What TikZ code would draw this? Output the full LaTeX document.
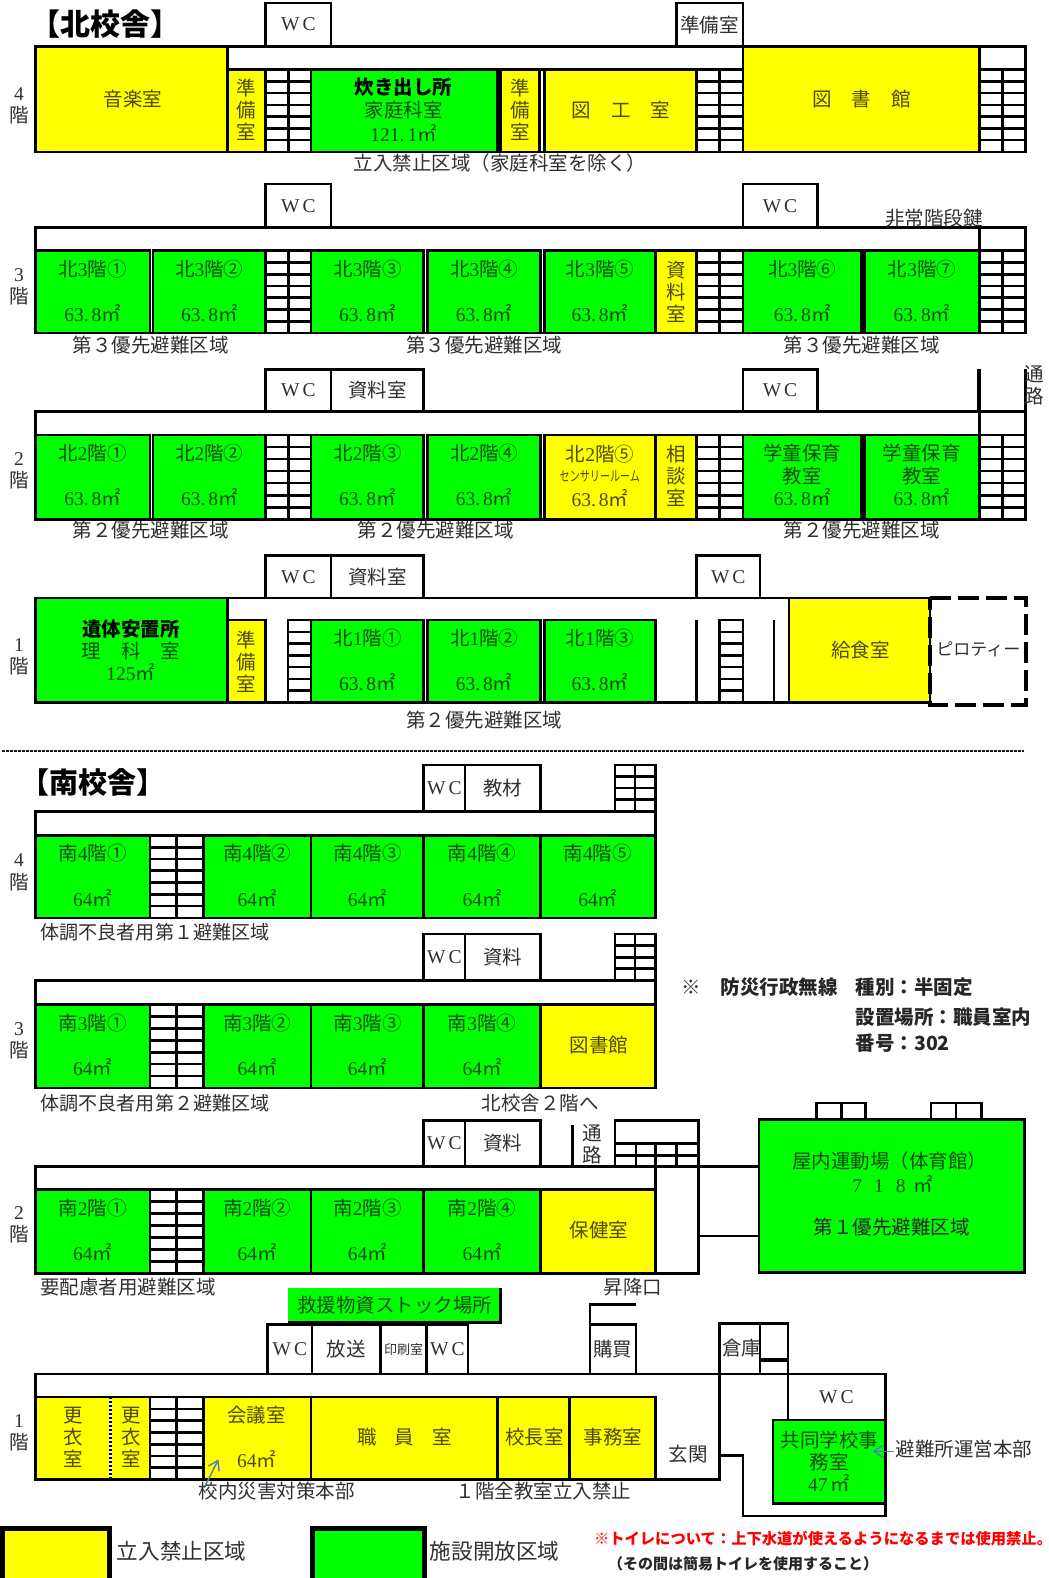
\documentclass[tikz,border=0pt]{standalone}
\usepackage{fontspec}
\usetikzlibrary{arrows.meta}
\setmainfont{Noto Sans CJK JP}
\newfontfamily\nmf{Liberation Serif}
\newfontfamily\cjn[FakeStretch=0.72]{Noto Sans CJK JP}
\newcommand{\nm}[1]{{\nmf #1}}
\newcommand{\fsz}[1]{\fontsize{#1}{#1}\selectfont}
\newcommand{\basefnt}{\fontsize{19.5}{22}\selectfont}
\definecolor{gr}{HTML}{00FF00}
\definecolor{ye}{HTML}{FFFF00}
\definecolor{gt}{HTML}{0C4A0C}
\definecolor{yt}{HTML}{4F4A00}
\definecolor{wt}{HTML}{303030}
\definecolor{bl}{HTML}{4F7FBF}
\tikzset{
  wall/.style={draw=black,line width=2.6pt},
  lb/.style={inner sep=0pt,align=center,font=\basefnt},
}
\newcommand{\rmb}[5]{\draw[wall,fill=#5] (#1,#2) rectangle (#3,#4);}
\newcommand{\stp}[6]{%
  \draw[wall,fill=white] (#1,#2) rectangle (#3,#4);
  \foreach \i in {1,...,#5}{\pgfmathsetmacro\yy{#2+(#4-#2)*\i/(#5+1)}\draw[wall] (#1,\yy) -- (#3,\yy);}
  \ifnum#6>0 \pgfmathsetmacro\xx{(#1+#3)/2}\draw[wall] (\xx,#2) -- (\xx,#4);\fi
}
\newcommand{\lb}[4]{\node[lb,text=#3] at (#1,#2) {#4};}
\newcommand{\lw}[3]{\node[lb,text=wt,anchor=west] at (#1,#2) {#3};}
\newcommand{\am}[1]{\nm{#1}㎡}
\newcommand{\sq}{\am{63.\kern3pt 8}}
% x1 x2 ytop ybot label area
\newcommand{\grm}[6]{\rmb{#1}{#3}{#2}{#4}{gr}
  \pgfmathsetmacro\cx{(#1+#2)/2}\pgfmathsetmacro\ya{#3+18}\pgfmathsetmacro\yb{#3+62}
  \lb{\cx}{\ya}{gt}{#5}\lb{\cx}{\yb}{gt}{#6}}
\newcommand{\wc}[5]{\draw[wall,fill=white] (#1,#3) rectangle (#2,#4);\pgfmathsetmacro\cx{(#1+#2)/2}\pgfmathsetmacro\cy{(#3+#4)/2}\lb{\cx}{\cy}{wt}{#5}}
\newcommand{\WC}{\nm{W\kern3pt C}}
\newcommand{\flr}[2]{\pgfmathsetmacro\fy{#2+21}\lb{19}{#2}{wt}{\nm{#1}}\lb{19}{\fy}{wt}{階}}
\begin{document}
\begin{tikzpicture}[x=1.0065pt,y=-1.0065pt]
\useasboundingbox (0,0) rectangle (1042.2,1567.8);
\fill[white] (0,0) rectangle (1042.2,1567.8);
% ===== North 4F
\node[lb,text=black,anchor=west,font=\fsz{30}] at (30,24) {\bfseries 【北校舎】};
\wc{264}{329}{3}{46}{\WC}
\wc{672}{738}{3}{46}{準備室}
\rmb{35}{46}{1019}{151}{white}
\rmb{35}{46}{226}{151}{ye}
\rmb{226}{69}{264}{151}{ye}
\stp{264}{69}{309}{151}{6}{1}
\rmb{309}{69}{494}{151}{gr}
\rmb{497}{69}{536}{151}{ye}
\rmb{541}{69}{692}{151}{ye}
\stp{692}{69}{738}{151}{6}{1}
\rmb{738}{46}{973}{151}{ye}
\stp{973}{69}{1019}{151}{6}{1}
\draw[wall] (973,46) -- (973,69);
\draw[wall] (226,69) -- (738,69);
\flr{4}{93}
\lb{132}{98}{yt}{音楽室}
\lb{245}{109}{yt}{準\\備\\室}
\lb{401}{87}{black}{\bfseries 炊き出し所}
\lb{401}{109}{gt}{家庭科室}
\lb{401}{132}{gt}{\am{121.\kern3pt 1}}
\lb{517}{109}{yt}{準\\備\\室}
\lb{617}{109}{yt}{図\hspace{20pt}工\hspace{20pt}室}
\lb{856}{98}{yt}{図\hspace{20pt}書\hspace{20pt}館}
\lb{497}{162}{wt}{立入禁止区域（家庭科室を除く）}
% ===== North 3F
\wc{264}{329}{183}{226}{\WC}
\wc{738}{812}{183}{226}{\WC}
\rmb{35}{226}{1019}{331}{white}
\grm{35}{149}{249}{331}{北\nm{3}階①}{\sq}
\grm{152}{264}{249}{331}{北\nm{3}階②}{\sq}
\stp{264}{249}{309}{331}{6}{1}
\grm{309}{421}{249}{331}{北\nm{3}階③}{\sq}
\grm{425}{537}{249}{331}{北\nm{3}階④}{\sq}
\grm{541}{651}{249}{331}{北\nm{3}階⑤}{\sq}
\rmb{651}{249}{692}{331}{ye}
\stp{692}{249}{738}{331}{6}{1}
\grm{738}{856}{249}{331}{北\nm{3}階⑥}{\sq}
\grm{859}{973}{249}{331}{北\nm{3}階⑦}{\sq}
\stp{973}{249}{1019}{331}{6}{1}
\draw[wall] (973,226) -- (973,249);
\flr{3}{273}
\lb{672}{290}{yt}{資\\料\\室}
\lb{928}{217}{wt}{非常階段鍵}
\lb{150}{343}{wt}{第３優先避難区域}
\lb{481}{343}{wt}{第３優先避難区域}
\lb{856}{343}{wt}{第３優先避難区域}
% ===== North 2F
\wc{264}{329}{367}{409}{\WC}
\wc{329}{421}{367}{409}{資料室}
\wc{738}{812}{367}{409}{\WC}
\draw[line width=4pt] (973,367) -- (973,409);
\draw[line width=2.6pt] (1019,367) -- (1019,409);
\lb{1028}{383}{wt}{通\\路}
\rmb{35}{409}{1019}{516}{white}
\grm{35}{149}{432}{516}{北\nm{2}階①}{\sq}
\grm{152}{264}{432}{516}{北\nm{2}階②}{\sq}
\stp{264}{432}{309}{516}{6}{1}
\grm{309}{421}{432}{516}{北\nm{2}階③}{\sq}
\grm{425}{537}{432}{516}{北\nm{2}階④}{\sq}
\rmb{541}{432}{651}{516}{ye}
\lb{596}{451}{yt}{北\nm{2}階⑤}
\lb{596}{473}{yt}{\fontsize{14}{14}\cjn センサリールーム}
\lb{596}{495}{yt}{\sq}
\rmb{651}{432}{692}{516}{ye}
\lb{672}{473}{yt}{相\\談\\室}
\stp{692}{432}{738}{516}{6}{1}
\grm{738}{856}{432}{516}{学童保育}{\sq}
\lb{797}{473}{gt}{教室}
\grm{859}{973}{432}{516}{学童保育}{\sq}
\lb{916}{473}{gt}{教室}
\stp{973}{432}{1019}{516}{6}{1}
\draw[wall] (973,409) -- (973,432);
\flr{2}{456}
\lb{150}{527}{wt}{第２優先避難区域}
\lb{433}{527}{wt}{第２優先避難区域}
\lb{856}{527}{wt}{第２優先避難区域}
% ===== North 1F
\wc{264}{329}{552}{594}{\WC}
\wc{329}{421}{552}{594}{資料室}
\wc{692}{755}{552}{594}{\WC}
\rmb{35}{594}{784}{698}{white}
\rmb{35}{594}{226}{698}{gr}
\rmb{226}{616}{264}{698}{ye}
\stp{286}{616}{309}{698}{6}{0}
\grm{309}{421}{616}{698}{北\nm{1}階①}{\sq}
\grm{425}{537}{616}{698}{北\nm{1}階②}{\sq}
\grm{541}{651}{616}{698}{北\nm{1}階③}{\sq}
\draw[wall] (692,616) -- (692,698);
\stp{715}{616}{738}{698}{6}{0}
\draw[wall] (769,616) -- (769,698);
\rmb{784}{594}{924}{698}{ye}
\draw[line width=4pt,dash pattern=on 21pt off 7pt] (924,594) -- (1019,594) -- (1019,700) -- (924,700) -- cycle;
\flr{1}{641}
\lb{130}{625}{black}{\bfseries 遺体安置所}
\lb{130}{647}{gt}{理\hspace{20pt}科\hspace{20pt}室}
\lb{130}{668}{gt}{\am{125}}
\lb{245}{657}{yt}{準\\備\\室}
\lb{855}{646}{yt}{給食室}
\lb{972}{645}{wt}{\fsz{17}ピロティー}
\lb{481}{715}{wt}{第２優先避難区域}
% separator
\draw[line width=2.5pt,black!90,dash pattern=on 3pt off 1pt] (2,746) -- (1017,746);
% ===== South 4F
\node[lb,text=black,anchor=west,font=\fsz{29}] at (20,777) {\bfseries 【南校舎】};
\wc{421}{462}{760}{806}{\WC}
\wc{462}{537}{760}{806}{教材}
\stp{611}{760}{651}{806}{3}{1}
\rmb{35}{806}{651}{912}{white}
\grm{35}{149}{830}{912}{南\nm{4}階①}{\am{64}}
\stp{149}{830}{202}{912}{6}{1}
\grm{202}{309}{830}{912}{南\nm{4}階②}{\am{64}}
\grm{309}{421}{830}{912}{南\nm{4}階③}{\am{64}}
\grm{421}{537}{830}{912}{南\nm{4}階④}{\am{64}}
\grm{537}{651}{830}{912}{南\nm{4}階⑤}{\am{64}}
\flr{4}{855}
\lw{40}{926}{\fsz{19.1}体調不良者用第１避難区域}
% ===== South 3F
\wc{421}{462}{928}{974}{\WC}
\wc{462}{537}{928}{974}{資料}
\stp{611}{928}{651}{974}{3}{1}
\rmb{35}{974}{651}{1081}{white}
\grm{35}{149}{998}{1081}{南\nm{3}階①}{\am{64}}
\stp{149}{998}{202}{1081}{6}{1}
\grm{202}{309}{998}{1081}{南\nm{3}階②}{\am{64}}
\grm{309}{421}{998}{1081}{南\nm{3}階③}{\am{64}}
\grm{421}{537}{998}{1081}{南\nm{3}階④}{\am{64}}
\rmb{537}{998}{651}{1081}{ye}
\lb{595}{1038}{yt}{図書館}
\flr{3}{1022}
\lw{40}{1096}{\fsz{19.1}体調不良者用第２避難区域}
\lb{537}{1096}{wt}{北校舎２階へ}
% ===== South 2F
\wc{421}{462}{1113}{1159}{\WC}
\wc{462}{537}{1113}{1159}{資料}
\draw[wall] (569,1118) -- (569,1159);
\lb{588}{1137}{wt}{通\\路}
\draw[wall,fill=white] (611,1113) rectangle (694,1159);
\draw[wall] (611,1136) -- (694,1136);
\draw[wall] (611,1148) -- (694,1148);
\foreach \vx in {632,651,672}{\draw[wall] (\vx,1136) -- (\vx,1159);}
\draw[wall,fill=white] (651,1159) rectangle (694,1265);
\draw[wall] (694,1159) -- (754,1159);
\draw[wall] (694,1228) -- (754,1228);
\rmb{35}{1159}{651}{1265}{white}
\grm{35}{149}{1182}{1265}{南\nm{2}階①}{\am{64}}
\stp{149}{1182}{202}{1265}{6}{1}
\grm{202}{309}{1182}{1265}{南\nm{2}階②}{\am{64}}
\grm{309}{421}{1182}{1265}{南\nm{2}階③}{\am{64}}
\grm{421}{537}{1182}{1265}{南\nm{2}階④}{\am{64}}
\rmb{537}{1182}{651}{1265}{ye}
\lb{595}{1222}{yt}{保健室}
\flr{2}{1205}
\lw{40}{1279}{要配慮者用避難区域}
\lb{629}{1279}{wt}{昇降口}
% gymnasium
\wc{811}{836}{1096}{1112}{}
\wc{836}{860}{1096}{1112}{}
\wc{925}{950}{1096}{1112}{}
\wc{950}{975}{1096}{1112}{}
\rmb{754}{1112}{1018}{1264}{gr}
\lb{884}{1154}{gt}{屋内運動場（体育館）}
\lb{887}{1176}{gt}{\nm{7\hspace{12pt}1\hspace{12pt}8\hspace{8pt}}㎡}
\lb{886}{1219}{black!85}{第１優先避難区域}
% radio note
\lw{677}{981}{※}
\node[lb,text=black!85,anchor=west] at (716,981) {\bfseries 防災行政無線};
\node[lb,text=black!85,anchor=west] at (850,981) {\bfseries 種別：半固定};
\node[lb,text=black!85,anchor=west] at (850,1011) {\bfseries 設置場所：職員室内};
\node[lb,text=black!85,anchor=west] at (850,1036) {\bfseries 番号：302};
% ===== South 1F
\fill[gr] (286,1280) rectangle (497,1313);
\draw[line width=3pt] (497,1280) -- (497,1314) -- (286,1314);
\lb{392}{1297}{gt}{救援物資ストック場所}
\wc{266}{310}{1316}{1365}{\WC}
\wc{310}{378}{1316}{1365}{放送}
\wc{378}{424}{1316}{1365}{\fsz{13}印刷室}
\wc{424}{465}{1316}{1365}{\WC}
\draw[wall] (632,1296) -- (586,1296) -- (586,1316);
\wc{586}{632}{1316}{1365}{購買}
\wc{715}{755}{1315}{1365}{}
\lb{737}{1339}{wt}{倉庫}
\draw[wall,fill=white] (755,1315) rectangle (783,1365);
\draw[line width=4pt] (755,1351) -- (783,1351);
% right wing
\draw[wall,fill=white] (35,1365) -- (880,1365) -- (880,1506) -- (738,1506) -- (738,1446) -- (715,1446) -- (715,1470) -- (35,1470) -- cycle;
\draw[wall] (715,1365) -- (715,1446);
\draw[wall] (783,1365) -- (783,1411);
\rmb{35}{1388}{110}{1470}{ye}
\rmb{110}{1388}{149}{1470}{ye}
\draw[white,line width=2.6pt,dash pattern=on 2pt off 2pt] (110,1390) -- (110,1468);
\stp{149}{1388}{202}{1470}{6}{1}
\rmb{202}{1388}{309}{1470}{ye}
\rmb{309}{1388}{494}{1470}{ye}
\rmb{494}{1388}{566}{1470}{ye}
\rmb{566}{1388}{651}{1470}{ye}
\lb{73}{1428}{yt}{更\\衣\\室}
\lb{130}{1428}{yt}{更\\衣\\室}
\lb{255}{1406}{yt}{会議室}
\lb{255}{1450}{yt}{\am{64}}
\lb{402}{1428}{yt}{職\hspace{18pt}員\hspace{18pt}室}
\lb{531}{1428}{yt}{校長室}
\lb{609}{1428}{yt}{事務室}
\lb{684}{1445}{wt}{玄関}
\lb{831}{1388}{wt}{\WC}
\rmb{768}{1411}{880}{1494}{gr}
\lb{824}{1442}{gt}{共同学校事\\務室}
\lb{824}{1473}{gt}{\am{47\,}}
\flr{1}{1412}
\draw[bl,line width=1.4pt,-{Straight Barb[length=9pt,width=12pt]}] (203,1478) -- (217,1450);
\draw[bl,line width=1.4pt,-{Straight Barb[length=9pt,width=12pt]}] (888,1442) -- (867,1442);
\lb{958}{1440}{wt}{避難所運営本部}
\lb{275}{1481}{wt}{校内災害対策本部}
\lb{540}{1481}{wt}{１階全教室立入禁止}
% legend
\draw[line width=5pt,fill=ye] (2,1519) rectangle (109,1572);
\lw{116}{1541}{\fsz{21.6}立入禁止区域}
\draw[line width=5pt,fill=gr] (310,1519) rectangle (422,1572);
\lw{427}{1541}{\fsz{21.6}施設開放区域}
\node[lb,text=red,anchor=west] at (590,1529) {\fsz{15.3}\bfseries ※トイレについて：上下水道が使えるようになるまでは使用禁止。};
\node[lb,text=black!85,anchor=west] at (604,1554) {\fsz{15}\bfseries （その間は簡易トイレを使用すること）};
\end{tikzpicture}
\end{document}
